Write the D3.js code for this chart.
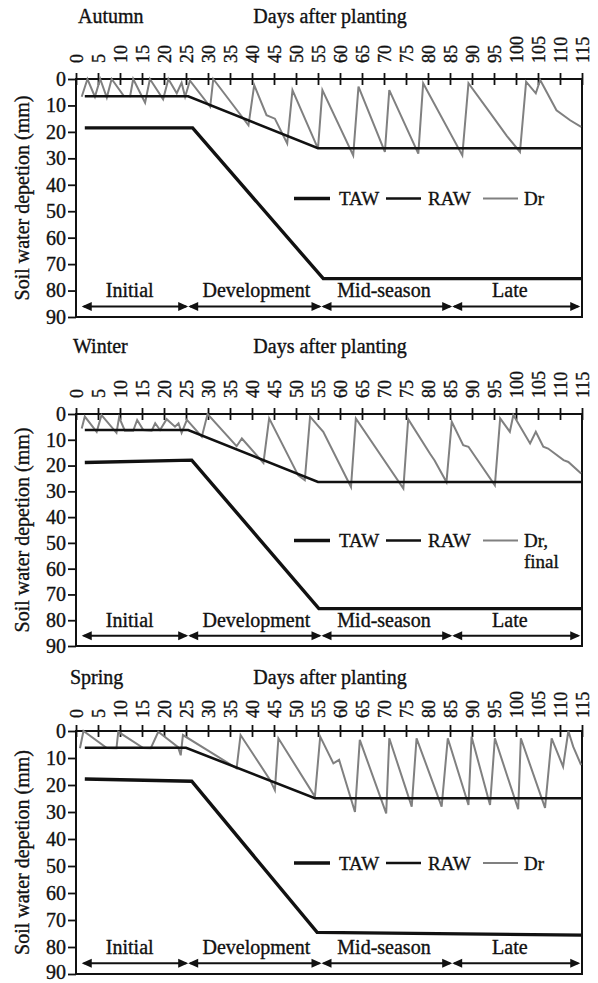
<!DOCTYPE html>
<html><head><meta charset="utf-8">
<script src="https://cdn.jsdelivr.net/npm/d3@7"></script>
<style>
body{margin:0;background:#fff}
svg{display:block}
text{font-family:"Liberation Serif","Times New Roman",serif;fill:#111;stroke:#111;stroke-width:0.35px}
</style>
</head><body><svg id="c" width="598" height="983"></svg>
<script>
// ---------- data ----------
const seasons = ["Autumn", "Winter", "Spring"];
const xTicks = d3.range(0, 116, 5);
const yTicks = d3.range(0, 91, 10);
const stageNames = ["Initial", "Development", "Mid-season", "Late"];
const stageBounds = [1.3, 25.5, 55.8, 85.5, 114.6];
const stageLabelDays = [12.2, 41, 70, 98.6];

const tawAutumn = [[2, 18.5], [26.5, 18.5], [56.2, 75.5], [115, 75.5]];
const rawAutumn = [[2, 6.5], [25.5, 6.5], [55, 26.2], [115, 26.2]];
const drAutumn = [[1.3,6.7],[2.6,0],[4.3,6.7],[5.5,0],[7,7],[8.1,0],[10.8,6.3],[12.3,6.5],[13,0],[15.7,9],[16.8,0],[19.8,7.7],[21,0],[22.9,5.4],[24,1.4],[24.8,6.7],[25.9,0.6],[30.5,10.5],[31.2,0],[39.2,17.5],[40.5,2.3],[43.3,13.7],[45.2,15],[48,24.4],[49.2,4.2],[55,26.3],[56,4.2],[63,28.9],[64.2,2.9],[70.2,27.6],[71.2,4.2],[77.8,28.2],[78.9,1.6],[87.8,28.9],[89.2,1.6],[94,12.5],[97.9,21.5],[100.9,27.6],[102.3,1],[104.5,5.4],[105.5,0.4],[109.2,11.8],[112.3,15.6],[114.8,18.1]];

const tawWinter = [[2, 18.8], [26.3, 17.9], [55.2, 75.5], [115, 75.5]];
const rawWinter = [[2, 6.2], [25.5, 6.2], [55, 26.4], [115, 26.4]];
const drWinter = [[1.3,5.6],[2,1],[4.7,6.9],[5.8,0.4],[9.2,7.3],[9.8,1.3],[11.1,6.5],[13,6.5],[13.9,2.3],[15.3,6.2],[17.2,6.5],[18,3.6],[19.1,6.2],[20.6,2],[22.5,4.9],[23.3,3.6],[24,7.3],[25.2,2.3],[28.6,8.8],[29.9,0],[36.5,12.5],[37.7,9.5],[42.6,19],[43.9,1.7],[50.5,23.8],[52,25.7],[53.2,1],[56.2,6.9],[62.5,28.3],[63.6,1.7],[74.4,28.9],[75.5,2],[80.5,15.5],[81.5,18],[84.2,26.4],[85.4,3],[88,12.1],[89.2,12.7],[95.2,27.7],[96.4,1.7],[98.6,6.9],[99.4,0.4],[103.2,11.4],[104.5,6.9],[106.2,12.7],[107.3,13.4],[110.8,17.9],[111.9,18.6],[114.8,23.1]];

const tawSpring = [[2, 17.8], [26.3, 18.6], [54.8, 74.6], [115, 75.6]];
const rawSpring = [[2, 6.2], [25, 6.2], [54.3, 24.9], [115, 24.9]];
const drSpring = [[0.9,6.4],[1.7,0],[7,6.3],[9.2,6.4],[9.6,0.3],[15.3,6.3],[17,6.4],[18.7,0.3],[23.2,6],[23.8,9],[24.3,1.5],[36.5,13.8],[37.4,1.5],[44.1,18.1],[45.2,21.9],[46,2.7],[54.3,24.3],[55.5,2.1],[58.5,12],[59.8,10.7],[63.4,30],[64.5,3.3],[70.5,30.5],[71.2,2.7],[76.3,28],[77.4,2.7],[83.1,28],[84.5,2.7],[89.2,27.4],[89.9,2.1],[94.1,27.4],[95.2,2.7],[100.5,29],[101.1,2.7],[106.6,28.5],[108.1,2.7],[110.7,13.2],[111.9,0],[113,5.8],[114.8,12.6]];

const legendNames = ["TAW", "RAW"];
const drLegendLabels = [["Dr"], ["Dr,", "final"], ["Dr"]];
const legendYValues = [45.2, 49.1, 48.9];

// ---------- layout ----------
const panels = [
  {name: seasons[0], taw: tawAutumn, raw: rawAutumn, dr: drAutumn, top: 79, bottom: 317, titleY: 23, nameX: 78, gap: 16},
  {name: seasons[1], taw: tawWinter, raw: rawWinter, dr: drWinter, top: 414, bottom: 646, titleY: 353, nameX: 73, gap: 16},
  {name: seasons[2], taw: tawSpring, raw: rawSpring, dr: drSpring, top: 731, bottom: 974, titleY: 684, nameX: 70, gap: 13}
];
const X0 = 76, X1 = 582;
const svg = d3.select("#c");
const x = d3.scaleLinear().domain([0, 115]).range([X0, X1]);

panels.forEach((p, i) => {
  const g = svg.append("g");
  const y = d3.scaleLinear().domain([0, 90]).range([p.top, p.bottom]);

  // titles
  g.append("text").attr("x", p.nameX).attr("y", p.titleY).attr("font-size", 20).text(p.name);
  g.append("text").attr("x", 330).attr("y", p.titleY).attr("font-size", 20)
    .attr("text-anchor", "middle").text("Days after planting");
  g.append("text").attr("transform", `translate(22,${(p.top + p.bottom) / 2}) rotate(-90)`)
    .attr("text-anchor", "middle").attr("dy", "0.35em").attr("font-size", 20)
    .text("Soil water depetion (mm)");

  // top axis
  const ax = g.append("g").attr("transform", `translate(0,${p.top})`)
    .call(d3.axisTop(x).tickValues(xTicks).tickSize(6).tickPadding(0));
  ax.select(".domain").remove();
  ax.selectAll(".tick line").attr("y1", 6).attr("y2", -6).attr("stroke", "#111").attr("stroke-width", 1.8);
  ax.selectAll(".tick text").attr("transform", "rotate(-90)").attr("x", p.gap).attr("y", 0)
    .attr("dy", "0.35em").attr("text-anchor", "start")
    .attr("font-size", 18).attr("font-family", '"Liberation Serif",serif').attr("fill", "#111");

  // left axis
  const ay = g.append("g").attr("transform", `translate(${X0},0)`)
    .call(d3.axisLeft(y).tickValues(yTicks).tickSize(8).tickPadding(2));
  ay.select(".domain").remove();
  ay.selectAll(".tick line").attr("stroke", "#111").attr("stroke-width", 1.8);
  ay.selectAll(".tick text").attr("font-size", 20).attr("font-family", '"Liberation Serif",serif').attr("fill", "#111")
    .attr("dy", d => (i === 2 && d === 90) ? "0.22em" : "0.32em");

  // frame
  g.append("rect").attr("x", X0).attr("y", p.top).attr("width", X1 - X0).attr("height", p.bottom - p.top)
    .attr("fill", "none").attr("stroke", "#111").attr("stroke-width", 2);

  const line = d3.line().x(d => x(d[0])).y(d => y(d[1]));
  g.append("path").datum(p.dr).attr("d", line).attr("fill", "none").attr("stroke", "#808080")
    .attr("stroke-width", 2).attr("stroke-linejoin", "miter");
  g.append("path").datum(p.raw).attr("d", line).attr("fill", "none").attr("stroke", "#111").attr("stroke-width", 2.6);
  g.append("path").datum(p.taw).attr("d", line).attr("fill", "none").attr("stroke", "#111").attr("stroke-width", 3.4);

  // legend
  const ly = y(legendYValues[i]);
  const leg = [
    {x1: 294, x2: 330, tx: 339, w: 3.4, c: "#111", lab: [legendNames[0]]},
    {x1: 386, x2: 421, tx: 428, w: 2.6, c: "#111", lab: [legendNames[1]]},
    {x1: 483, x2: 518, tx: 524, w: 2, c: "#808080", lab: drLegendLabels[i]}
  ];
  leg.forEach(l => {
    g.append("line").attr("x1", l.x1).attr("x2", l.x2).attr("y1", ly).attr("y2", ly)
      .attr("stroke", l.c).attr("stroke-width", l.w);
    const t = g.append("text").attr("x", l.tx).attr("y", ly).attr("font-size", 19);
    l.lab.forEach((s, k) => t.append("tspan").attr("x", l.tx).attr("dy", k === 0 ? "0.35em" : "1.1em").text(s));
  });

  // stages
  const ay2 = y(86), lab = y(82.5);
  stageNames.forEach((s, k) => {
    const a = x(stageBounds[k]), b = x(stageBounds[k + 1]);
    g.append("line").attr("x1", a + 2).attr("x2", b - 2).attr("y1", ay2).attr("y2", ay2)
      .attr("stroke", "#111").attr("stroke-width", 2);
    const L = 10, H = 4.5;
    g.append("path").attr("d", `M${a},${ay2}L${a + L},${ay2 - H}L${a + L},${ay2 + H}Z`).attr("fill", "#111");
    g.append("path").attr("d", `M${b},${ay2}L${b - L},${ay2 - H}L${b - L},${ay2 + H}Z`).attr("fill", "#111");
    g.append("text").attr("x", x(stageLabelDays[k])).attr("y", lab).attr("text-anchor", "middle")
      .attr("font-size", 20).text(s);
  });
});
</script>
</body></html>
